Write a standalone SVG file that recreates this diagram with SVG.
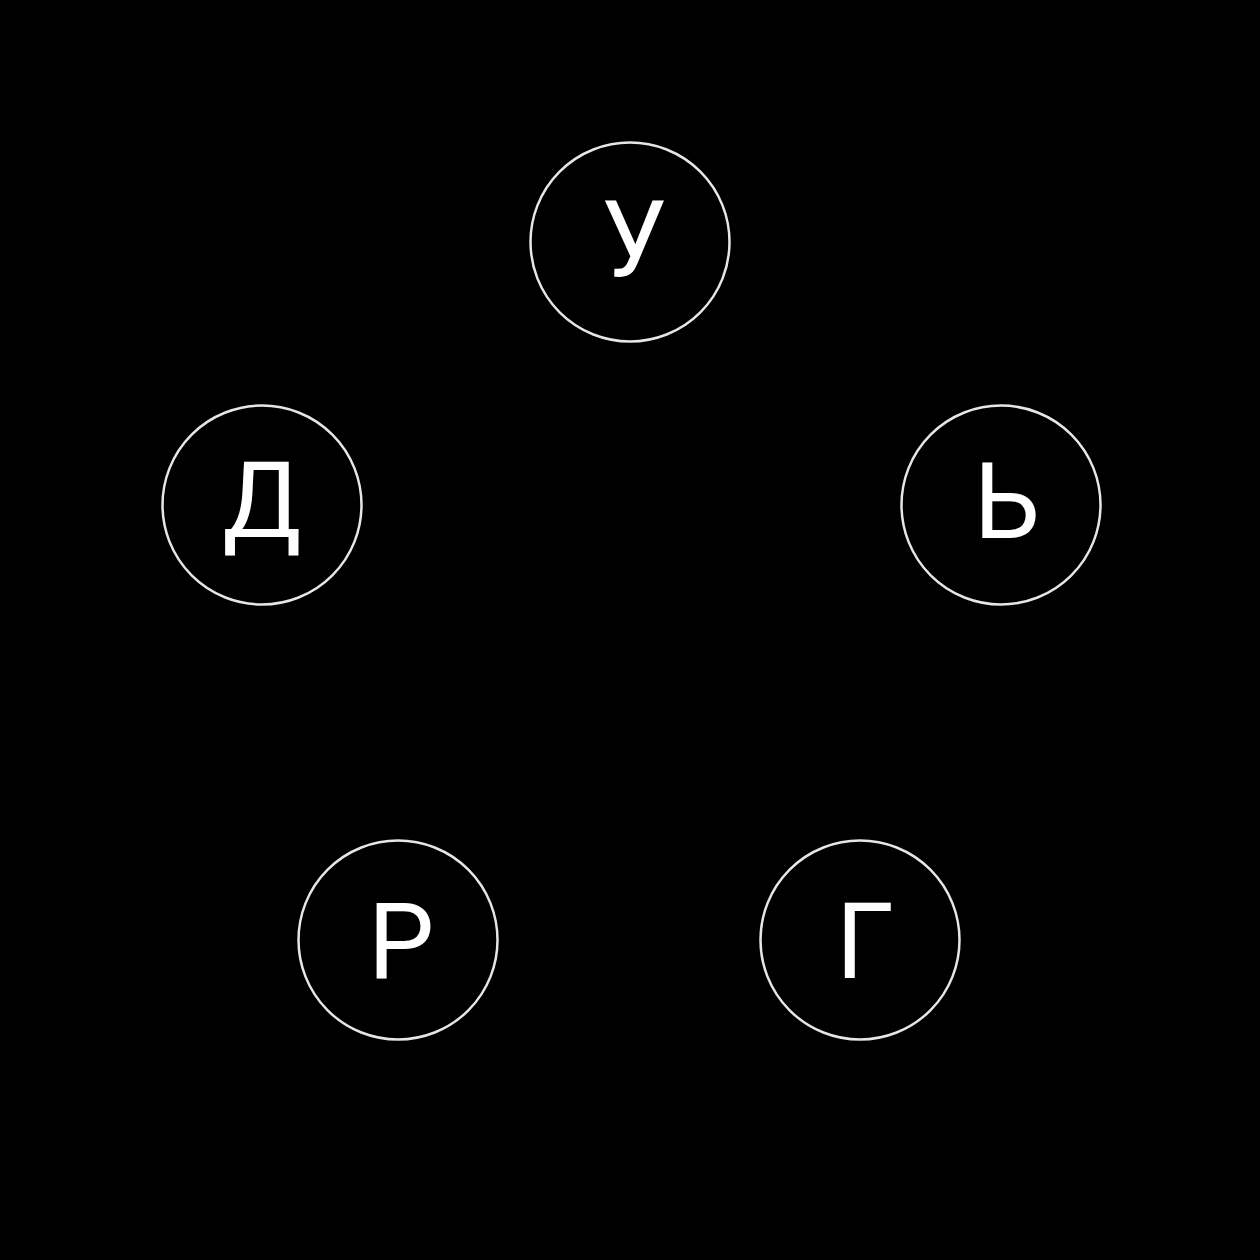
<svg xmlns="http://www.w3.org/2000/svg" width="1260" height="1260" viewBox="0 0 1260 1260">
<style>
.node circle{fill:#000;stroke:#e6e6e6;stroke-width:2.5}
.node text{fill:#fff;font-family:Roboto,"Open Sans",sans-serif;font-size:105px;text-anchor:middle}
</style>
<rect width="1260" height="1260" fill="#000"/>
<g id="connectors"></g>
<g id="node-u" class="node"><circle cx="630" cy="242" r="99.5"/><text x="634" y="276">У</text></g>
<g id="node-soft" class="node"><circle cx="1001" cy="505" r="99.5"/><text x="1007" y="538">Ь</text></g>
<g id="node-d" class="node"><circle cx="262" cy="505" r="99.5"/><text x="262" y="537">Д</text></g>
<g id="node-r" class="node"><circle cx="398" cy="940" r="99.5"/><text x="401" y="979">Р</text></g>
<g id="node-g" class="node"><circle cx="860" cy="940" r="99.5"/><text x="865" y="978">Г</text></g>
</svg>
